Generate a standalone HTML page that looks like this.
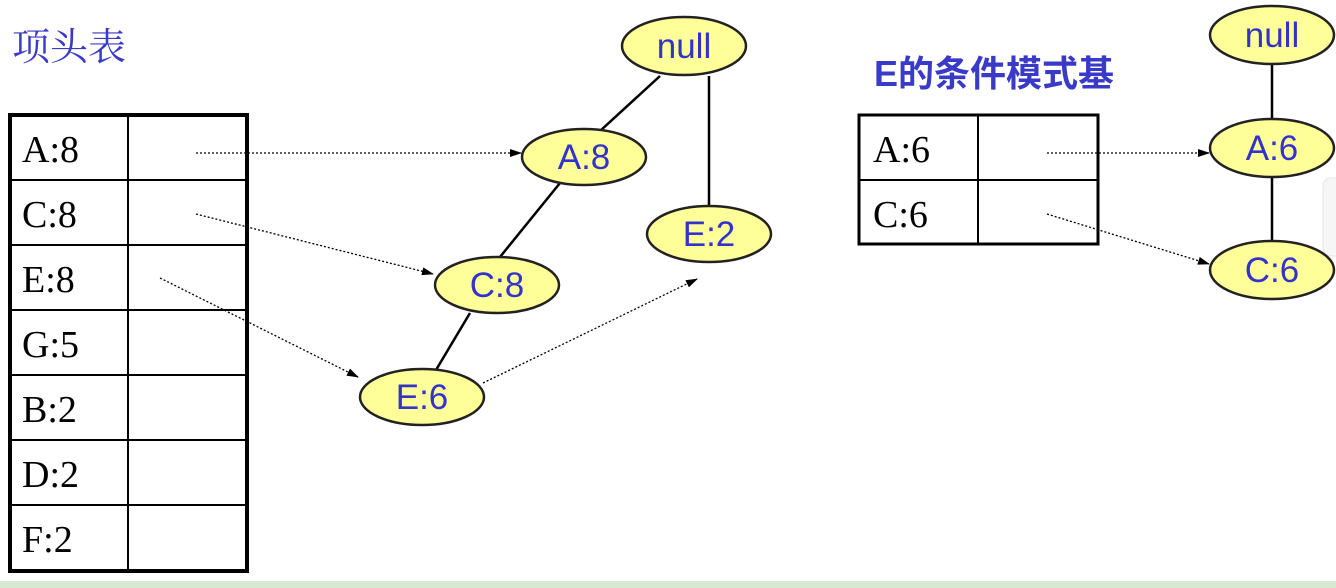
<!DOCTYPE html>
<html><head><meta charset="utf-8"><style>
body{margin:0;width:1336px;height:588px;background:#fff;overflow:hidden;position:relative}
svg{position:absolute;left:0;top:0}
</style></head><body>
<svg width="1336" height="588" viewBox="0 0 1336 588">
<defs><marker id="ar" markerWidth="12" markerHeight="10" refX="11" refY="5" orient="auto" markerUnits="userSpaceOnUse"><path d="M0,1 L12,5 L0,9 z" fill="#000"/></marker></defs>
<rect x="0" y="581" width="1336" height="7" fill="#d9e8d0"/>
<rect x="1323" y="178" width="20" height="78" rx="8" fill="#f6f6f6" stroke="#e6e6e6"/>
<text x="12" y="60" font-family="'Noto Serif CJK SC',serif" font-size="38" fill="#3a3ac8">项头表</text>
<text x="874" y="86" font-family="'Liberation Sans','Noto Sans CJK SC',sans-serif" font-size="36" font-weight="bold" fill="#3a3ac8">E的条件模式基</text>
<g fill="none" stroke="#000">
<rect x="10" y="115" width="237" height="456" stroke-width="4"/>
<line x1="128" y1="115" x2="128" y2="571" stroke-width="2"/>
<g stroke-width="2"><line x1="10" y1="180" x2="247" y2="180"/><line x1="10" y1="245" x2="247" y2="245"/><line x1="10" y1="310" x2="247" y2="310"/><line x1="10" y1="375" x2="247" y2="375"/><line x1="10" y1="440" x2="247" y2="440"/><line x1="10" y1="505" x2="247" y2="505"/></g>
<rect x="859" y="115" width="239" height="129" stroke-width="3"/>
<line x1="978" y1="115" x2="978" y2="244" stroke-width="2"/>
<line x1="859" y1="180" x2="1098" y2="180" stroke-width="2"/>
<g stroke-width="2.5"><line x1="660" y1="76" x2="600" y2="131"/><line x1="560" y1="183" x2="500" y2="257"/><line x1="470" y1="313" x2="436" y2="370"/><line x1="709" y1="76" x2="709" y2="205"/><line x1="1272" y1="64" x2="1272" y2="118"/><line x1="1272" y1="177" x2="1272" y2="241"/></g>
<g stroke-width="1.3" stroke-dasharray="2,2" marker-end="url(#ar)"><line x1="196" y1="153" x2="521" y2="153"/><line x1="196" y1="214" x2="433" y2="274"/><line x1="160" y1="278" x2="358" y2="377"/><line x1="483" y1="383" x2="697" y2="279"/><line x1="1047" y1="153" x2="1209" y2="153"/><line x1="1047" y1="214" x2="1209" y2="264"/></g>
</g>
<g fill="#ffff99" stroke="#222" stroke-width="2.5">
<ellipse cx="684" cy="46" rx="62" ry="29"/><ellipse cx="584" cy="157" rx="62" ry="28"/><ellipse cx="497" cy="285" rx="62" ry="28"/><ellipse cx="422" cy="397" rx="62" ry="28"/><ellipse cx="709" cy="234" rx="62" ry="28"/>
<ellipse cx="1272" cy="35" rx="62" ry="29"/><ellipse cx="1272" cy="148" rx="62" ry="29"/><ellipse cx="1272" cy="270" rx="62" ry="29"/>
</g>
<g font-family="'Liberation Sans',sans-serif" font-size="35" fill="#3333cc" text-anchor="middle">
<text x="684" y="58">null</text><text x="584" y="169">A:8</text><text x="497" y="297">C:8</text><text x="422" y="409">E:6</text><text x="709" y="246">E:2</text>
<text x="1272" y="47">null</text><text x="1272" y="160">A:6</text><text x="1272" y="282">C:6</text>
</g>
<g font-family="'Liberation Serif',serif" font-size="38" fill="#000">
<text x="22" y="162">A:8</text><text x="22" y="227">C:8</text><text x="22" y="292">E:8</text><text x="22" y="357">G:5</text><text x="22" y="422">B:2</text><text x="22" y="487">D:2</text><text x="22" y="552">F:2</text>
<text x="873" y="162">A:6</text><text x="873" y="227">C:6</text>
</g>
</svg>
</body></html>
